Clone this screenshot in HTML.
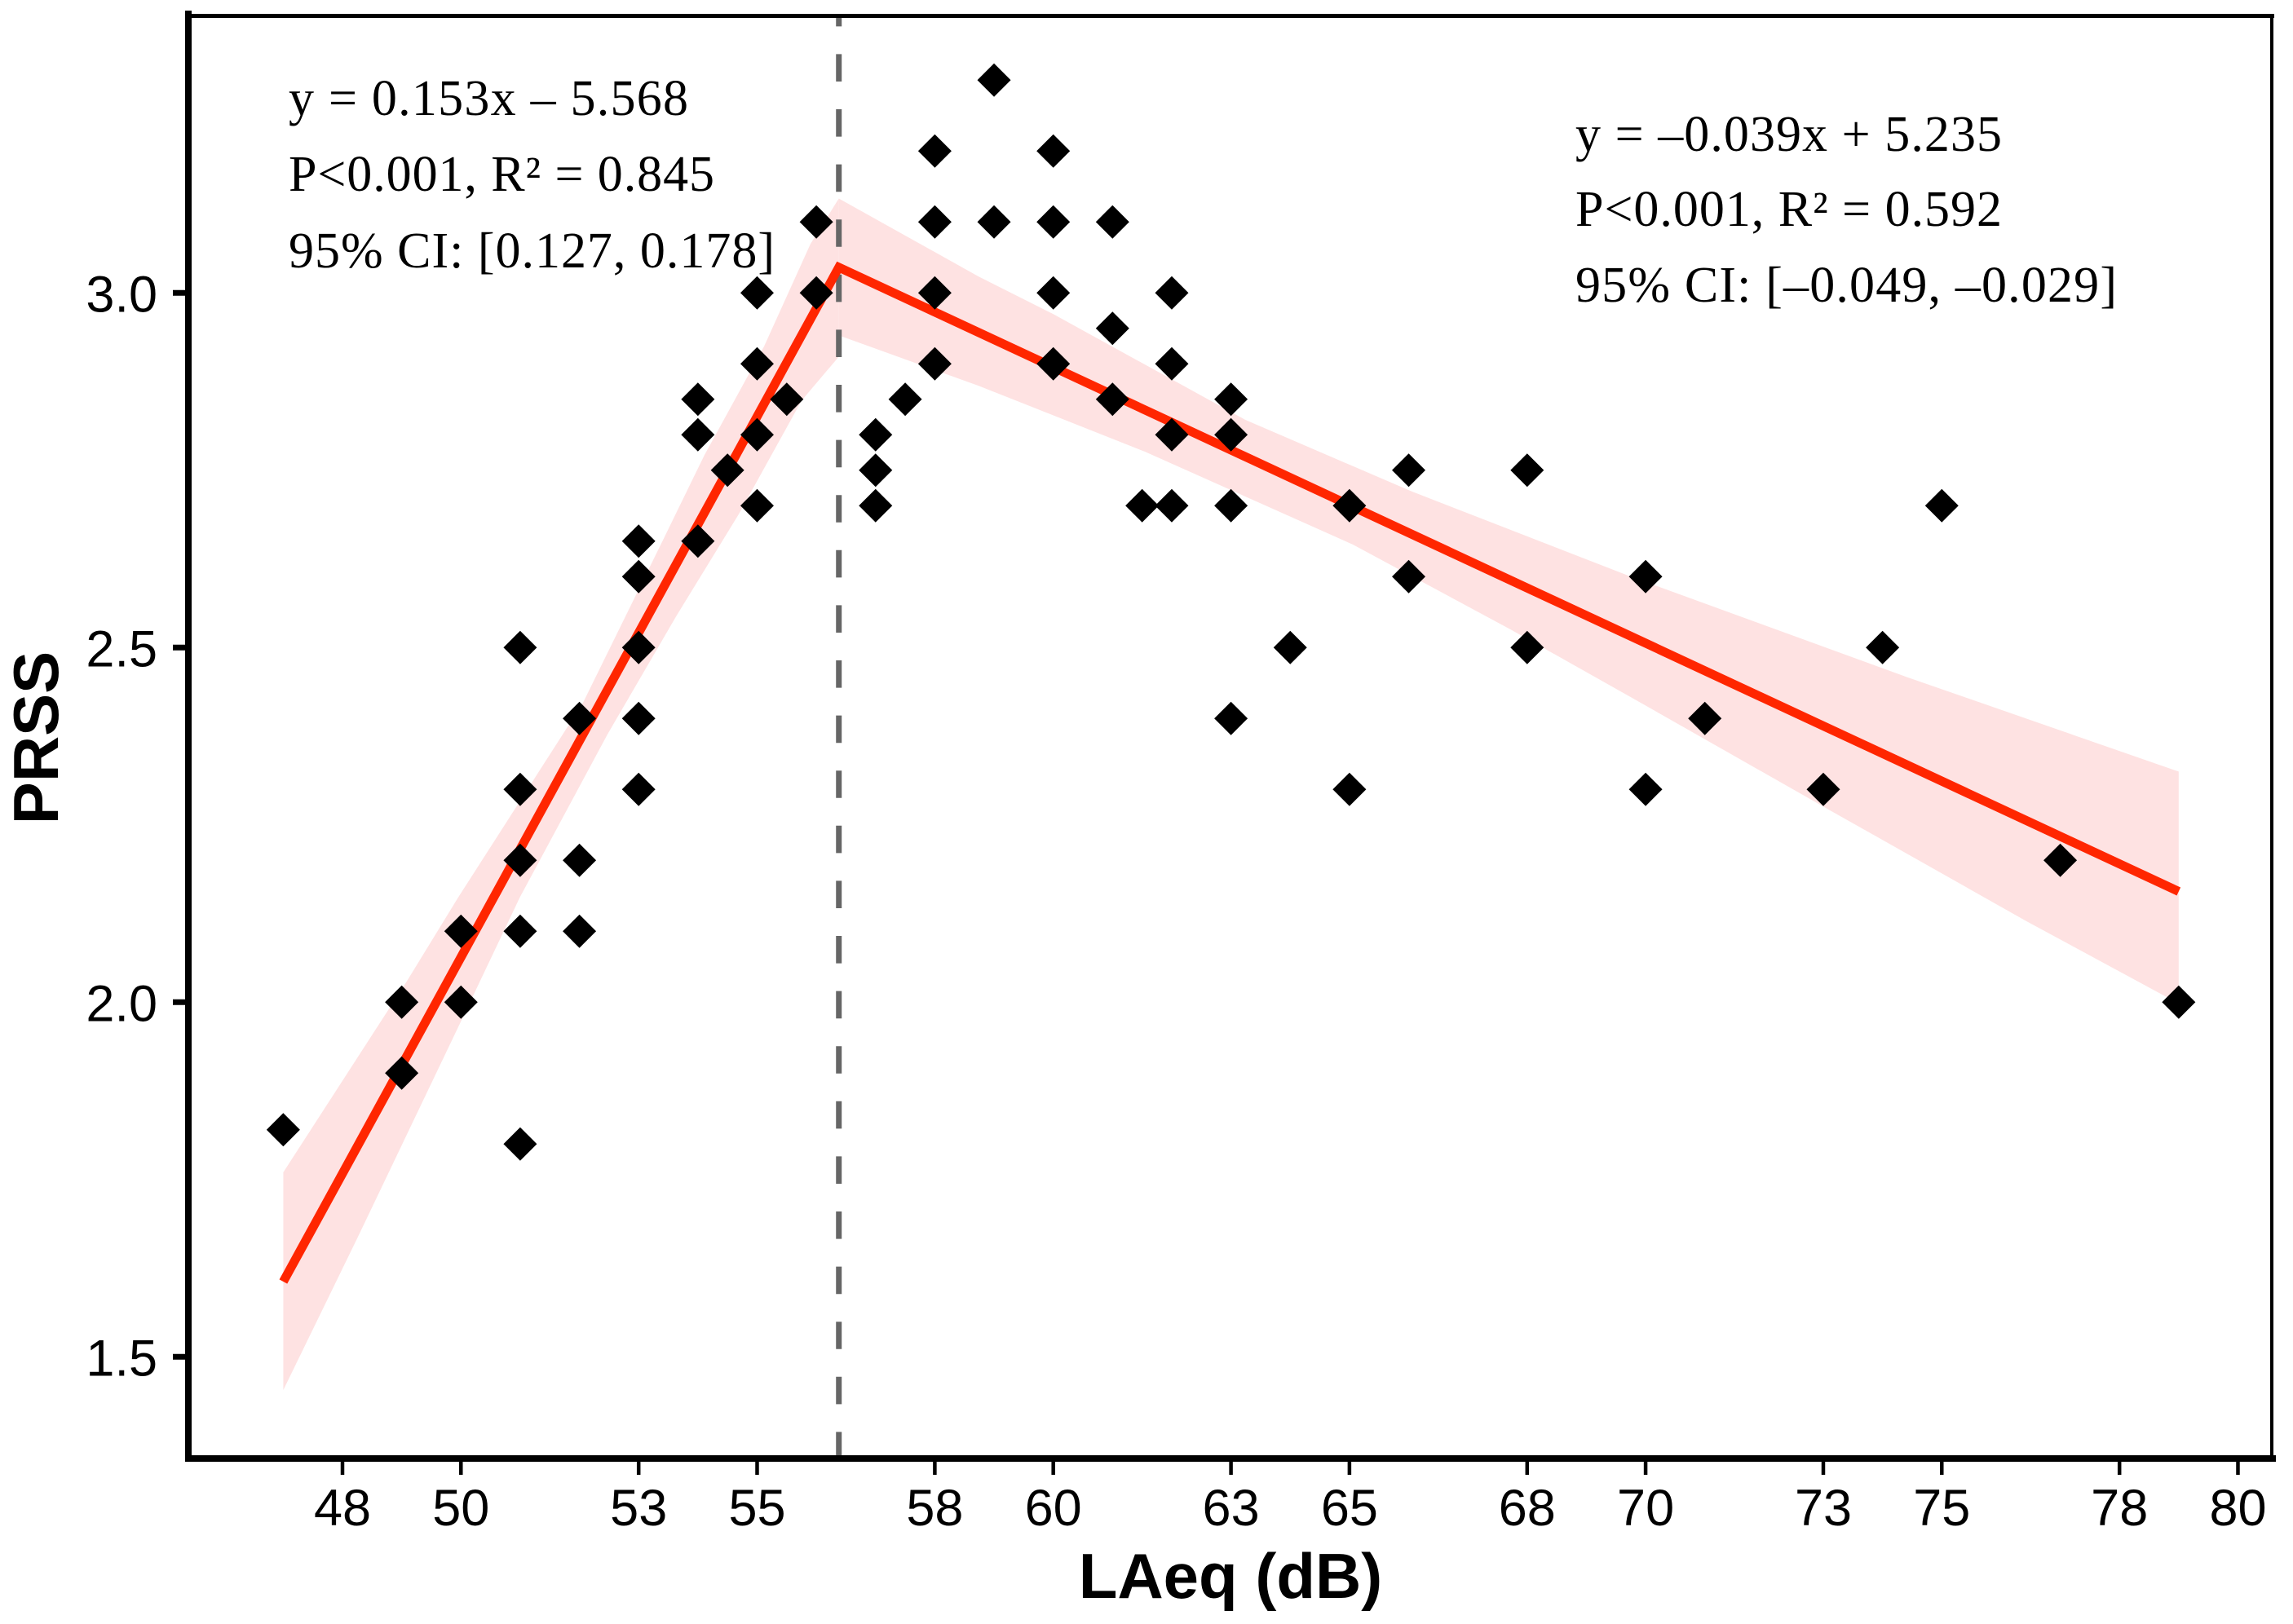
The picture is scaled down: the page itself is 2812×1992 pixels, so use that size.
<!DOCTYPE html>
<html lang="en">
<head>
<meta charset="utf-8">
<title>PRSS vs LAeq</title>
<style>
html,body{margin:0;padding:0;background:#fff;}
svg{display:block;}
.tick{font-family:"Liberation Sans",Arial,sans-serif;font-size:63px;fill:#000;}
.axt{font-family:"Liberation Sans",Arial,sans-serif;font-weight:bold;font-size:78px;fill:#000;}
.ann{font-family:"Liberation Serif","Times New Roman",serif;font-size:62px;fill:#000;}
</style>
</head>
<body>
<svg id="chart" xmlns="http://www.w3.org/2000/svg" width="2812" height="1992" viewBox="0 0 2812 1992">
  <rect width="2812" height="1992" fill="#fff"/>
  <g id="bands"></g>
  <g id="threshold"></g>
  <g id="fits"></g>
  <g id="points"></g>
  <g id="axes"></g>
  <g>
    <text class="ann" x="354" y="141" textLength="490" lengthAdjust="spacing">y = 0.153x – 5.568</text>
    <text class="ann" x="354" y="234" textLength="522" lengthAdjust="spacing">P&lt;0.001, R² = 0.845</text>
    <text class="ann" x="354" y="328" textLength="596" lengthAdjust="spacing">95% CI: [0.127, 0.178]</text>
  </g>
  <g>
    <text class="ann" x="1940" y="185" textLength="523" lengthAdjust="spacing" transform="translate(-8,0)">y = –0.039x + 5.235</text>
    <text class="ann" x="1940" y="277" textLength="523" lengthAdjust="spacing" transform="translate(-8,0)">P&lt;0.001, R² = 0.592</text>
    <text class="ann" x="1940" y="370" textLength="664" lengthAdjust="spacing" transform="translate(-8,0)">95% CI: [–0.049, –0.029]</text>
  </g>
  <text class="axt" x="1509" y="1960" text-anchor="middle">LAeq (dB)</text>
  <text class="axt" transform="translate(71,905) rotate(-90)" text-anchor="middle">PRSS</text>
</svg>
<script>
var xTickValues = [48, 50, 53, 55, 58, 60, 63, 65, 68, 70, 73, 75, 78, 80];
var yTickValues = [1.5, 2.0, 2.5, 3.0];
var yTickLabels = ["1.5", "2.0", "2.5", "3.0"];

var pointX = [47, 49, 49, 50, 50, 51, 51, 51, 51, 51, 52, 52, 52, 53, 53, 53, 53, 53, 54, 54, 54, 54.5, 55, 55, 55, 55, 55.5, 56, 56, 57, 57, 57, 57.5, 58, 58, 58, 58, 59, 59, 60, 60, 60, 60, 61, 61, 61, 61.5, 62, 62, 62, 62, 63, 63, 63, 63, 64, 65, 65, 66, 66, 68, 68, 70, 70, 71, 73, 74, 75, 77, 79];
var pointY = [1.82, 2.0, 1.9, 2.1, 2.0, 2.5, 2.3, 2.2, 2.1, 1.8, 2.4, 2.2, 2.1, 2.65, 2.6, 2.5, 2.4, 2.3, 2.85, 2.8, 2.65, 2.75, 3.0, 2.9, 2.8, 2.7, 2.85, 3.1, 3.0, 2.8, 2.75, 2.7, 2.85, 3.2, 3.1, 3.0, 2.9, 3.3, 3.1, 3.2, 3.1, 3.0, 2.9, 3.1, 2.95, 2.85, 2.7, 3.0, 2.9, 2.8, 2.7, 2.85, 2.8, 2.7, 2.4, 2.5, 2.7, 2.3, 2.75, 2.6, 2.75, 2.5, 2.6, 2.3, 2.4, 2.3, 2.5, 2.7, 2.2, 2.0];

var breakpointX = 56.38;
var fitLeftX = [47, 56.38];
var fitLeftY = [1.606, 3.036];
var fitRightX = [56.38, 79];
var fitRightY = [3.036, 2.156];

var bandLeftUpperX = [47, 49.09, 49.95, 52.06, 53.42, 54.11, 55.12, 55.9, 56.38];
var bandLeftUpperY = [1.76, 2.03, 2.147, 2.422, 2.653, 2.771, 2.925, 3.069, 3.133];
var bandLeftLowerX = [47, 48.26, 49.95, 50.99, 52.47, 53.64, 54.69, 55.75, 56.38];
var bandLeftLowerY = [1.453, 1.669, 1.964, 2.147, 2.377, 2.545, 2.688, 2.848, 2.91];

var bandRightUpperX = [56.38, 58.74, 60, 63.24, 66.05, 69.75, 74.42, 79];
var bandRightUpperY = [3.133, 3.023, 2.97, 2.821, 2.72, 2.6, 2.458, 2.325];
var bandRightLowerX = [56.38, 58.74, 61.55, 65.06, 67.73, 69.75, 73.08, 76.43, 79];
var bandRightLowerY = [2.94, 2.869, 2.776, 2.645, 2.525, 2.43, 2.272, 2.114, 1.998];

function xScale(v) { return 420 + 72.64 * (v - 48); }
function yScale(v) { return 359.2 + 870 * (3 - v); }

var NS = "http://www.w3.org/2000/svg";
function make(tag, parent, attrs) {
  var el = document.createElementNS(NS, tag);
  for (var k in attrs) { el.setAttribute(k, attrs[k]); }
  parent.appendChild(el);
  return el;
}
function pathThrough(xs, ys) {
  return xs.map(function (x, i) { return xScale(x).toFixed(1) + "," + yScale(ys[i]).toFixed(1); });
}
function bandPoints(ux, uy, lx, ly) {
  return pathThrough(ux, uy).concat(pathThrough(lx, ly).reverse()).join(" ");
}

var bandsG = document.getElementById("bands");
var bandL = make("polygon", bandsG, { points: bandPoints(bandLeftUpperX, bandLeftUpperY, bandLeftLowerX, bandLeftLowerY), fill: "#fee2e2" });


var bandR = make("polygon", bandsG, { points: bandPoints(bandRightUpperX, bandRightUpperY, bandRightLowerX, bandRightLowerY), fill: "#fee2e2" });



var thresholdG = document.getElementById("threshold");
var vline = make("line", thresholdG, { x1: xScale(breakpointX), x2: xScale(breakpointX), y1: 1790, y2: 18, stroke: "#666", "stroke-width": 7, "stroke-dasharray": "33.6 34" });



var fitsG = document.getElementById("fits");
var fitPts = pathThrough(fitLeftX, fitLeftY).concat(pathThrough(fitRightX, fitRightY).slice(1)).join(" ");
var fit = make("polyline", fitsG, { points: fitPts, fill: "none", stroke: "#ff2600", "stroke-width": 11, "stroke-linejoin": "miter" });



var pointsG = document.getElementById("points");
pointX.forEach(function (v, i) {
  var cx = xScale(v), cy = yScale(pointY[i]), r = 20.5;
  var p = make("polygon", pointsG, { points: cx + "," + (cy - r) + " " + (cx + r) + "," + cy + " " + cx + "," + (cy + r) + " " + (cx - r) + "," + cy, fill: "#000" });
  
  
});

var axesG = document.getElementById("axes");
var topLine = make("line", axesG, { x1: 228, x2: 2789, y1: 19.5, y2: 19.5, stroke: "#000", "stroke-width": 5 });


var rightLine = make("line", axesG, { x1: 2786, x2: 2786, y1: 17, y2: 1789, stroke: "#000", "stroke-width": 4 });


var leftLine = make("line", axesG, { x1: 231, x2: 231, y1: 13, y2: 1793, stroke: "#000", "stroke-width": 8 });


var bottomLine = make("line", axesG, { x1: 228, x2: 2791, y1: 1789, y2: 1789, stroke: "#000", "stroke-width": 8 });



xTickValues.forEach(function (v) {
  var x = xScale(v);
  var t = make("line", axesG, { x1: x, x2: x, y1: 1790, y2: 1809, stroke: "#000", "stroke-width": 4.5 });
  
  
  var l = make("text", axesG, { x: x, y: 1871, "text-anchor": "middle", "class": "tick" });
  
  
  l.textContent = String(v);
});
yTickValues.forEach(function (v, i) {
  var y = yScale(v);
  var t = make("line", axesG, { x1: 212, x2: 231, y1: y, y2: y, stroke: "#000", "stroke-width": 7 });
  
  
  var l = make("text", axesG, { x: 193, y: y + 23.5, "text-anchor": "end", "class": "tick" });
  
  
  l.textContent = yTickLabels[i];
});
</script>
</body>
</html>
